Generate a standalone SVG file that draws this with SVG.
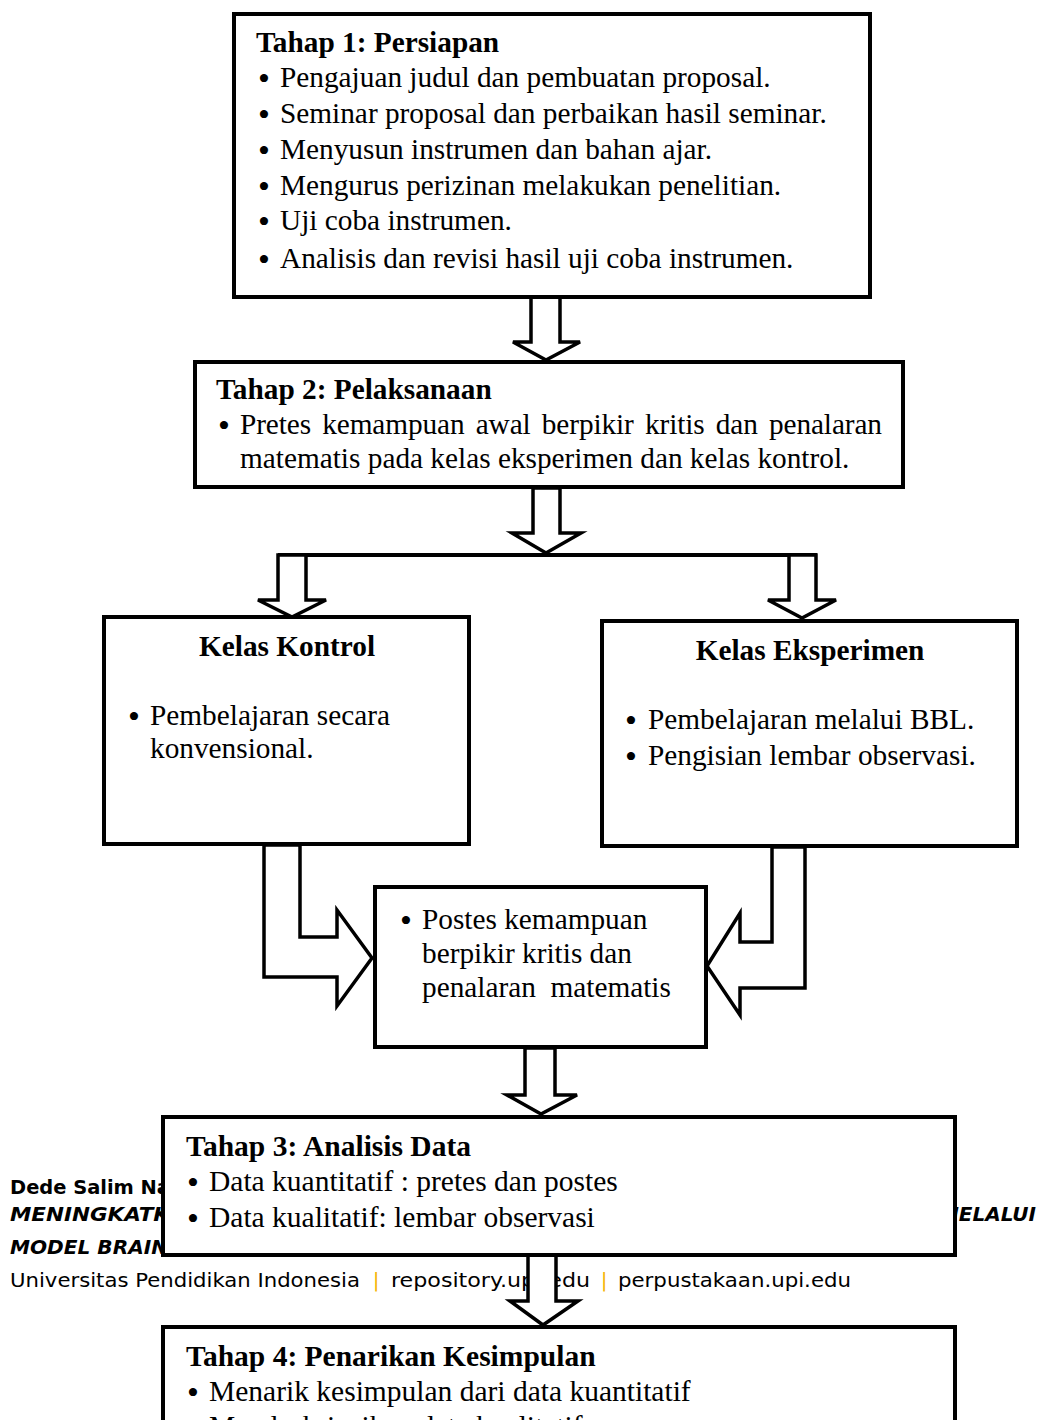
<svg xmlns="http://www.w3.org/2000/svg" width="1044" height="1420" viewBox="0 0 1044 1420">
<style>
.box{fill:#fff;stroke:#000;stroke-width:4}
.arr{fill:#fff;stroke:#000;stroke-width:3.5;stroke-linejoin:miter}
.ln{stroke:#000;stroke-width:4;fill:none}
.t{font-family:"Liberation Serif","Times New Roman",serif;font-size:29.3px;fill:#000}
.t3{font-family:"Liberation Serif","Times New Roman",serif;font-size:29.5px;fill:#000}
.bu{font-size:34px}
.b{font-weight:bold}
.f{font-family:"DejaVu Sans","Noto Sans",sans-serif;font-size:20px;fill:#000}
.fb{font-family:"DejaVu Sans","Noto Sans",sans-serif;font-size:20px;font-weight:bold;fill:#000}
.fi{font-family:"DejaVu Sans","Noto Sans",sans-serif;font-size:20px;font-weight:bold;font-style:italic;fill:#000}
.pipe{fill:#f5b400}
</style>
<rect width="1044" height="1420" fill="#fff"/>
<g id="footer">
<text class="fb" x="10" y="1194" textLength="160" lengthAdjust="spacingAndGlyphs">Dede Salim Na</text>
<text class="fi" x="10" y="1221" textLength="160" lengthAdjust="spacingAndGlyphs">MENINGKATK</text>
<text class="fi" x="1036" y="1221" text-anchor="end">MELALUI</text>
<text class="fi" x="10" y="1254" textLength="158" lengthAdjust="spacingAndGlyphs">MODEL BRAIN</text>
<text class="f" x="10" y="1287" textLength="350" lengthAdjust="spacingAndGlyphs">Universitas Pendidikan Indonesia</text>
<text class="f pipe" x="376" y="1287" text-anchor="middle">|</text>
<text class="f" x="391" y="1287" textLength="199" lengthAdjust="spacingAndGlyphs">repository.upi.edu</text>
<text class="f pipe" x="604" y="1287" text-anchor="middle">|</text>
<text class="f" x="618" y="1287" textLength="233" lengthAdjust="spacingAndGlyphs">perpustakaan.upi.edu</text>
</g>
<g id="connectors">
<polygon class="arr" points="531,297 560,297 560,342 580,342 546,360 513,342 531,342"/>
<polygon class="arr" points="533,488 560,488 560,533 581,533 546,553 512,533 533,533"/>
<line class="ln" x1="278" y1="555" x2="817" y2="555"/>
<polygon class="arr" points="278,555 306,555 306,600 326,600 292,617 258,600 278,600"/>
<polygon class="arr" points="789,555 816,555 816,600 836,600 802,618 768,600 789,600"/>
<polygon class="arr" points="264,845 300,845 300,937 337,937 337,910 372,958 337,1006 337,977 264,977"/>
<polygon class="arr" points="805,847 772,847 772,942 740,942 740,913 707,966 740,1015 740,988 805,988"/>
<polygon class="arr" points="525,1048 555,1048 555,1095 577,1095 541,1114 507,1095 525,1095"/>
<polygon class="arr" points="528,1255 556,1255 556,1301 578,1301 543,1325 510,1301 528,1301"/>
</g>
<g id="tahap1">
<rect class="box" x="234" y="14" width="636" height="283"/>
<text class="t b" x="256" y="52">Tahap 1: Persiapan</text>
<g class="t">
<text><tspan class="bu" x="258" y="90">•</tspan><tspan x="280" y="87">Pengajuan judul dan pembuatan proposal.</tspan></text>
<text><tspan class="bu" x="258" y="126">•</tspan><tspan x="280" y="123">Seminar proposal dan perbaikan hasil seminar.</tspan></text>
<text><tspan class="bu" x="258" y="162">•</tspan><tspan x="280" y="159">Menyusun instrumen dan bahan ajar.</tspan></text>
<text><tspan class="bu" x="258" y="198">•</tspan><tspan x="280" y="195">Mengurus perizinan melakukan penelitian.</tspan></text>
<text><tspan class="bu" x="258" y="233">•</tspan><tspan x="280" y="230">Uji coba instrumen.</tspan></text>
<text><tspan class="bu" x="258" y="271">•</tspan><tspan x="280" y="268">Analisis dan revisi hasil uji coba instrumen.</tspan></text>
</g>
</g>
<g id="tahap2">
<rect class="box" x="195" y="362" width="708" height="125"/>
<text class="t b" x="216" y="399">Tahap 2: Pelaksanaan</text>
<g class="t">
<text><tspan class="bu" x="218" y="437">•</tspan><tspan x="240" y="434" textLength="642" lengthAdjust="spacing" word-spacing="4">Pretes kemampuan awal berpikir kritis dan penalaran</tspan></text>
<text x="240" y="468">matematis pada kelas eksperimen dan kelas kontrol.</text>
</g>
</g>
<g id="kelas-kontrol">
<rect class="box" x="104" y="617" width="365" height="227"/>
<text class="t b" x="287" y="656" text-anchor="middle">Kelas Kontrol</text>
<g class="t">
<text><tspan class="bu" x="128" y="728">•</tspan><tspan x="150" y="725">Pembelajaran secara</tspan></text>
<text x="150" y="758">konvensional.</text>
</g>
</g>
<g id="kelas-eksperimen">
<rect class="box" x="602" y="621" width="415" height="225"/>
<text class="t b" x="810" y="660" text-anchor="middle">Kelas Eksperimen</text>
<g class="t">
<text><tspan class="bu" x="625" y="732">•</tspan><tspan x="648" y="729">Pembelajaran melalui BBL.</tspan></text>
<text><tspan class="bu" x="625" y="768">•</tspan><tspan x="648" y="765">Pengisian lembar observasi.</tspan></text>
</g>
</g>
<g id="postes">
<rect class="box" x="375" y="887" width="331" height="160"/>
<g class="t">
<text><tspan class="bu" x="400" y="932">•</tspan><tspan x="422" y="929">Postes kemampuan</tspan></text>
<text x="422" y="963">berpikir kritis dan</text>
<text x="422" y="997" xml:space="preserve">penalaran  matematis</text>
</g>
</g>
<g id="tahap3">
<rect class="box" x="163" y="1117" width="792" height="138"/>
<text class="t3 b" x="186" y="1156">Tahap 3: Analisis Data</text>
<g class="t3">
<text><tspan class="bu" x="187" y="1194">•</tspan><tspan x="209" y="1191">Data kuantitatif : pretes dan postes</tspan></text>
<text><tspan class="bu" x="187" y="1230">•</tspan><tspan x="209" y="1227">Data kualitatif: lembar observasi</tspan></text>
</g>
</g>
<g id="tahap4">
<rect class="box" x="163" y="1327" width="792" height="130"/>
<text class="t3 b" x="186" y="1366">Tahap 4: Penarikan Kesimpulan</text>
<g class="t3">
<text><tspan class="bu" x="187" y="1404">•</tspan><tspan x="209" y="1401">Menarik kesimpulan dari data kuantitatif</tspan></text>
<text><tspan class="bu" x="187" y="1439">•</tspan><tspan x="209" y="1436">Mendeskripsikan data kualitatif</tspan></text>
</g>
</g>
</svg>
